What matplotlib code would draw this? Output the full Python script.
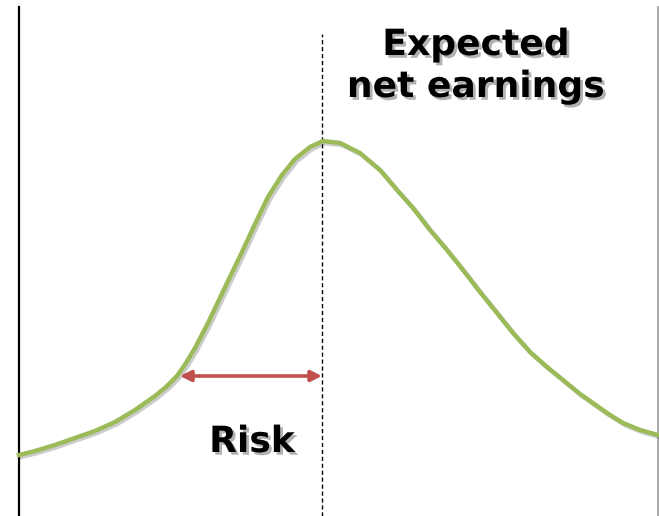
import matplotlib.pyplot as plt
import matplotlib.patheffects as pe

# curve: x to the right, y = height above the bottom edge
curve_x = [19, 35, 55, 75, 95, 115, 135, 155, 166, 177, 186, 195, 208, 218,
           228, 242, 255, 268, 282, 295, 310, 323, 340, 360, 380, 397, 413,
           430, 447, 463, 480, 497, 513, 530, 547, 563, 580, 590, 607, 623,
           640, 658]
curve_y = [61, 65, 71, 78, 85, 94, 106, 120, 129, 140, 153, 168, 193, 214,
           235, 264, 292, 319, 341, 357, 369, 375, 373, 363, 346, 326, 308,
           286, 266, 246, 224, 203, 183, 164, 149, 136, 122, 115, 103, 93,
           86, 81]

mean_x = 322
risk_from = 180
risk_y = 140

top_lines = ["Expected", "net earnings"]
label_risk = "Risk"

green = "#9BBB59"
red = "#C0504D"

fig = plt.figure(figsize=(6.59, 5.16), dpi=100)
ax = fig.add_axes([0, 0, 1, 1])
ax.set_xlim(0, 659)
ax.set_ylim(0, 516)
ax.axis("off")

# frame lines
ax.plot([19, 19], [0, 509], color="black", lw=1.6)
ax.plot([658, 658], [0, 509], color="#9a9a9a", lw=1.2)

# mean line
ax.plot([mean_x, mean_x], [0, 482], color="black", lw=1.0, ls=(0, (3, 2)))

line_shadow = [pe.SimpleLineShadow(offset=(1.5, -1.5), alpha=0.2), pe.Normal()]
ax.plot(curve_x, curve_y, color=green, lw=3.2, solid_joinstyle="round",
        path_effects=line_shadow)

ax.annotate("", xy=(risk_from, risk_y), xytext=(mean_x, risk_y),
            arrowprops=dict(arrowstyle="<|-|>", color=red, lw=2.6,
                            mutation_scale=16, shrinkA=0, shrinkB=0))

txt_shadow = [pe.withSimplePatchShadow(offset=(2, -2), alpha=0.3)]
ax.text(476, 461, top_lines[0], ha="center", va="baseline", fontsize=26,
        fontweight="bold", path_effects=txt_shadow)
ax.text(476, 419, top_lines[1], ha="center", va="baseline", fontsize=26,
        fontweight="bold", path_effects=txt_shadow)
ax.text(252, 64, label_risk, ha="center", va="baseline", fontsize=26,
        fontweight="bold", path_effects=txt_shadow)

fig.savefig("out.png", dpi=100)
